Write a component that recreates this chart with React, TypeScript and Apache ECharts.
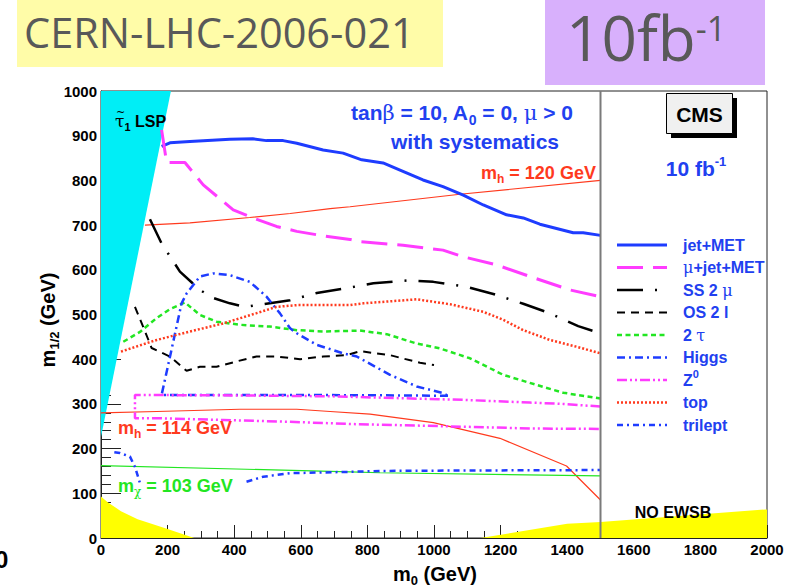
import React, { useEffect, useRef } from 'react';
import * as echarts from 'echarts';

const W = 791;
const H = 587;

const SANS = '"Liberation Sans", Arial, Helvetica, sans-serif';
const SERIF = '"DejaVu Serif", "Liberation Serif", serif';
const HEAD = '"Open Sans", "Noto Sans", sans-serif';

const BLUE = '#1e3cff';
const MAGENTA = '#ff3cff';
const RED = '#ff3a1e';
const GREEN = '#22e622';
const BLACK = '#000000';
const TEXT_BLUE = '#2140f0';

// mSUGRA plane, GeV
const m0Range = [0, 2000];
const m12Range = [0, 1000];
const m0Step = 200;
const m12Step = 100;
const m0MinorSplit = 4;
const m12MinorSplit = 5;
const legendPaneM0 = 1500;

// theoretically excluded regions, [m0, m1/2] vertices
const stauLsp = [[0, 1000], [210, 1000], [0, 226]];
const noEwsbLeft = [[0, 0], [0, 93], [20, 80], [60, 60], [110, 42], [200, 20], [280, 0]];
const noEwsbRight = [[1140, 0], [1400, 32], [1500, 36], [2000, 64], [2000, 0]];

// 5 sigma discovery reach for 10 fb^-1, [m0, m1/2]
const jetMet = [[182, 876], [207, 884], [267, 887], [387, 892], [456, 893], [497, 889], [547, 889], [588, 883], [667, 868], [727, 861], [783, 846], [847, 839], [898, 823], [967, 801], [1027, 786], [1088, 767], [1148, 745], [1218, 723], [1268, 716], [1318, 702], [1418, 683], [1448, 683], [1500, 677]];
const muJetMet = [[182, 913], [197, 840], [252, 840], [307, 790], [397, 734], [457, 716], [527, 697], [588, 686], [667, 676], [748, 668], [778, 663], [907, 655], [1027, 644], [1088, 629], [1188, 611], [1288, 585], [1408, 555], [1500, 540]];
const ss2mu = [[147, 713], [182, 659], [237, 596], [297, 555], [337, 537], [387, 525], [432, 517], [467, 521], [568, 532], [648, 548], [738, 559], [818, 570], [918, 576], [998, 573], [1098, 562], [1178, 546], [1268, 524], [1343, 504], [1433, 474], [1500, 458]];
const os2l = [[102, 517], [127, 472], [152, 425], [207, 406], [257, 374], [297, 383], [347, 383], [407, 395], [467, 406], [527, 406], [598, 400], [667, 406], [738, 409], [778, 418], [868, 409], [958, 392], [1000, 387]];
const tau2 = [[67, 439], [117, 461], [167, 492], [207, 512], [252, 527], [297, 499], [347, 484], [417, 477], [507, 473], [588, 465], [667, 462], [778, 464], [858, 456], [948, 435], [1018, 424], [1108, 402], [1208, 365], [1328, 338], [1388, 325], [1500, 312]];
const higgs = [[1042, 318], [900, 319], [600, 320], [400, 320], [182, 320], [207, 405], [242, 525], [257, 547], [297, 585], [337, 592], [387, 588], [447, 573], [497, 540], [537, 503], [568, 469], [588, 458], [648, 432], [728, 413], [768, 406], [868, 365], [948, 339], [1028, 324], [1042, 318]];
const z0 = [[1500, 294], [1388, 300], [1288, 303], [1088, 309], [688, 317], [400, 319], [102, 320], [102, 268], [167, 268], [367, 264], [568, 260], [748, 255], [1088, 249], [1288, 245], [1500, 244]];
const top = [[60, 417], [167, 443], [267, 462], [367, 480], [467, 503], [527, 517], [588, 521], [748, 521], [788, 525], [948, 534], [1048, 523], [1148, 506], [1208, 488], [1268, 465], [1348, 443], [1428, 428], [1500, 413]];
const trileptLow = [[40, 192], [57, 190], [87, 182], [102, 159], [117, 123]];
const trileptHigh = [[437, 126], [487, 137], [568, 145], [748, 148], [838, 150], [1100, 151], [1500, 152]];

// iso-mass contours, [m0, m1/2]
const mh120 = [[132, 700], [267, 705], [447, 717], [568, 726], [688, 737], [748, 741], [1078, 769], [1500, 800]];
const mh114 = [[0, 280], [167, 283], [417, 288], [588, 288], [688, 283], [808, 277], [998, 258], [1198, 223], [1398, 161], [1500, 85]];
const mchi103 = [[0, 162], [748, 148], [838, 146], [1500, 139]];

type Part = { t: string; s?: number; dy?: number; fam?: string; w?: string };

type Reach = {
  name: string;
  label: Part[];
  pieces: number[][][];
  color: string;
  width: number;
  dash: number[] | null;
};

const reach: Reach[] = [
  { name: 'jet+MET', label: [{ t: 'jet+MET' }], pieces: [jetMet], color: BLUE, width: 3, dash: null },
  { name: 'mu+jet+MET', label: [{ t: 'μ', fam: SERIF, w: 'normal' }, { t: '+jet+MET' }], pieces: [muJetMet], color: MAGENTA, width: 3, dash: [26, 10] },
  { name: 'SS 2mu', label: [{ t: 'SS 2 ' }, { t: 'μ', fam: SERIF, w: 'normal' }], pieces: [ss2mu], color: BLACK, width: 2.5, dash: [26, 12, 2, 12] },
  { name: 'OS 2l', label: [{ t: 'OS 2 l' }], pieces: [os2l], color: BLACK, width: 2, dash: [8, 6] },
  { name: '2tau', label: [{ t: '2 ' }, { t: 'τ', fam: SERIF, w: 'normal' }], pieces: [tau2], color: GREEN, width: 2.5, dash: [5, 3.5] },
  { name: 'Higgs', label: [{ t: 'Higgs' }], pieces: [higgs], color: BLUE, width: 2.5, dash: [8, 4, 2, 4] },
  { name: 'Z0', label: [{ t: 'Z' }, { t: '0', s: 11, dy: -6 }], pieces: [z0], color: MAGENTA, width: 2.5, dash: [10, 3, 2, 3, 2, 3] },
  { name: 'top', label: [{ t: 'top' }], pieces: [top], color: RED, width: 2.5, dash: [2, 2] },
  { name: 'trilept', label: [{ t: 'trilept' }], pieces: [trileptLow, trileptHigh], color: BLUE, width: 2.5, dash: [6, 4, 2, 4] },
];

const isoLines = [
  { data: mh120, color: RED },
  { data: mh114, color: RED },
  { data: mchi103, color: GREEN },
];

let measureCtx: CanvasRenderingContext2D | null = null;
function textWidth(t: string, font: string): number {
  if (!measureCtx) measureCtx = document.createElement('canvas').getContext('2d');
  measureCtx!.font = font;
  return measureCtx!.measureText(t).width;
}

// lays out consecutive text pieces (sub/superscripts) on one line
function run(parts: Part[], x: number, y: number, color: string, size: number, align: 'left' | 'center' = 'left', weight = 'bold', family = SANS): any[] {
  const fonts = parts.map((p) => `${p.w ?? weight} ${p.s ?? size}px ${p.fam ?? family}`);
  const widths = parts.map((p, i) => textWidth(p.t, fonts[i]));
  const total = widths.reduce((a, b) => a + b, 0);
  let cx = align === 'center' ? x - total / 2 : x;
  return parts.map((p, i) => {
    const el = {
      type: 'text',
      x: cx,
      y: y + (p.dy ?? 0),
      z: 20,
      silent: true,
      style: {
        text: p.t,
        fill: color,
        font: fonts[i],
        lineHeight: p.s ?? size,
        align: 'left',
        verticalAlign: 'middle',
        textAlign: 'left',
        textVerticalAlign: 'middle',
      },
    };
    cx += widths[i];
    return el;
  });
}

function regionSeries(pts: number[][], color: string) {
  return {
    type: 'custom',
    coordinateSystem: 'cartesian2d',
    silent: true,
    z: 1,
    clip: true,
    data: [[pts[0][0], pts[0][1]]],
    renderItem: (_p: any, api: any) => ({
      type: 'polygon',
      shape: { points: pts.map((p) => api.coord(p)) },
      style: { fill: color, stroke: 'none' },
    }),
  };
}

function buildOption(): any {
  const series: any[] = [
    regionSeries(stauLsp, '#00eef6'),
    regionSeries(noEwsbLeft, '#ffff00'),
    regionSeries(noEwsbRight, '#ffff00'),
  ];
  isoLines.forEach((l) => {
    series.push({
      type: 'line', data: l.data, symbol: 'none', silent: true, z: 2,
      lineStyle: { color: l.color, width: 1.2 },
    });
  });
  reach.forEach((r) => {
    r.pieces.forEach((piece) => {
      series.push({
        type: 'line', name: r.name, data: piece, symbol: 'none', silent: true, z: 3,
        lineStyle: { color: r.color, width: r.width, type: r.dash ?? 'solid', cap: 'butt' },
        itemStyle: { color: r.color },
      });
    });
  });
  // left edge of the legend pane
  series.push({
    type: 'line', data: [[legendPaneM0, m12Range[0]], [legendPaneM0, m12Range[1]]], symbol: 'none', silent: true, z: 4,
    lineStyle: { color: '#7a7a7a', width: 2 },
  });

  const graphic: any[] = [];
  // header tags
  graphic.push({ type: 'rect', shape: { x: 17, y: 0, width: 426, height: 67 }, style: { fill: '#fffca8' }, z: 10, silent: true });
  graphic.push({ type: 'rect', shape: { x: 545, y: 0, width: 220, height: 85 }, style: { fill: '#d8b0fc' }, z: 10, silent: true });
  graphic.push(...run([{ t: 'CERN-LHC-2006-021' }], 24, 31.5, '#595959', 41.5, 'left', 'normal', HEAD));
  graphic.push(...run([{ t: '10fb' }, { t: '-1', s: 34, dy: -9 }], 566, 37, '#595959', 62, 'left', 'normal', HEAD));

  // plot annotations
  graphic.push(...run([{ t: 'τ', s: 17, fam: SERIF, w: 'normal' }, { t: '1', s: 11, dy: 6 }, { t: ' LSP' }], 115, 121, BLACK, 16));
  graphic.push(...run([{ t: '~' }], 116, 112, BLACK, 11, 'left', 'normal', SERIF));
  graphic.push(...run([
    { t: 'tan' }, { t: 'β', fam: SERIF, w: 'normal' }, { t: ' = 10, A' }, { t: '0', s: 14, dy: 7 },
    { t: ' = 0, ' }, { t: 'μ', fam: SERIF, w: 'normal' }, { t: ' > 0' },
  ], 462, 112.5, TEXT_BLUE, 21, 'center'));
  graphic.push(...run([{ t: 'with systematics' }], 475, 141, TEXT_BLUE, 21, 'center'));
  graphic.push(...run([{ t: 'm' }, { t: 'h', s: 12, dy: 6 }, { t: ' = 120 GeV' }], 481, 173, RED, 18));
  graphic.push(...run([{ t: 'm' }, { t: 'h', s: 12, dy: 6 }, { t: ' = 114 GeV' }], 118, 428, RED, 18));
  graphic.push(...run([{ t: 'm' }, { t: 'χ', s: 12, dy: 6, fam: SERIF, w: 'normal' }, { t: ' = 103 GeV' }], 118, 486, GREEN, 18));
  graphic.push(...run([{ t: 'NO EWSB' }], 673, 512, BLACK, 16, 'center'));

  // CMS tag
  graphic.push({ type: 'rect', shape: { x: 671, y: 98, width: 66, height: 40 }, style: { fill: '#000' }, z: 18, silent: true });
  graphic.push({ type: 'rect', shape: { x: 666.5, y: 93.5, width: 66, height: 40 }, style: { fill: '#f0f0f0', stroke: '#000', lineWidth: 1 }, z: 19, silent: true });
  graphic.push(...run([{ t: 'CMS' }], 699.5, 114, BLACK, 21, 'center'));
  graphic.push(...run([{ t: '10 fb' }, { t: '-1', s: 13, dy: -7 }], 696, 168, TEXT_BLUE, 21, 'center'));

  // legend
  reach.forEach((r, i) => {
    const y = 245 + i * 22.5;
    graphic.push({
      type: 'line', z: 20, silent: true,
      shape: { x1: 617, y1: y, x2: 667, y2: y },
      style: { stroke: r.color, lineWidth: r.width, lineDash: r.dash ?? null, lineCap: 'butt' },
    });
    graphic.push(...run(r.label, 683, y, TEXT_BLUE, 16));
  });

  // axis titles
  graphic.push(...run([{ t: 'm' }, { t: '0', s: 13, dy: 6 }, { t: ' (GeV)' }], 435, 574, BLACK, 20, 'center'));
  graphic.push({
    type: 'group', x: 48, y: 320, rotation: Math.PI / 2, z: 20,
    children: run([{ t: 'm' }, { t: '1/2', s: 13, dy: 6 }, { t: ' (GeV)' }], 0, 0, BLACK, 20, 'center'),
  });
  graphic.push(...run([{ t: '0' }], -5, 559, BLACK, 24));

  const axisText = {
    color: '#000', fontWeight: 'bold', fontSize: 15, fontFamily: SANS,
    formatter: (v: number) => String(v),
  };

  return {
    animation: false,
    backgroundColor: '#ffffff',
    grid: { left: 101, right: 24, top: 91, bottom: 49, show: true, borderColor: '#222', borderWidth: 1, backgroundColor: '#fff' },
    xAxis: {
      type: 'value', min: m0Range[0], max: m0Range[1], interval: m0Step,
      axisLine: { show: true, onZero: false, lineStyle: { color: '#222', width: 1 } },
      axisTick: { show: true, inside: true, length: 13, lineStyle: { color: '#222', width: 1 } },
      minorTick: { show: true, splitNumber: m0MinorSplit, length: 7, lineStyle: { color: '#222', width: 1 } },
      splitLine: { show: false },
      axisLabel: { ...axisText, margin: 4 },
    },
    yAxis: {
      type: 'value', min: m12Range[0], max: m12Range[1], interval: m12Step,
      axisLine: { show: true, onZero: false, lineStyle: { color: '#222', width: 1 } },
      axisTick: { show: true, inside: true, length: 20, lineStyle: { color: '#222', width: 1 } },
      minorTick: { show: true, splitNumber: m12MinorSplit, length: 10, lineStyle: { color: '#222', width: 1 } },
      splitLine: { show: false },
      axisLabel: { ...axisText, margin: 4 },
    },
    series,
    graphic,
  };
}

export default function App() {
  const ref = useRef<HTMLDivElement>(null);
  useEffect(() => {
    const chart = echarts.init(ref.current!, undefined, { renderer: 'svg', width: W, height: H });
    chart.setOption(buildOption());
    return () => chart.dispose();
  }, []);
  return (
    <div
      ref={ref}
      style={{ position: 'fixed', left: 0, top: 0, width: W, height: H, background: '#fff' }}
    />
  );
}
